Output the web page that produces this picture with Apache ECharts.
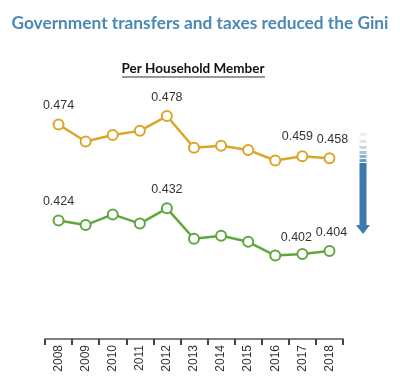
<!DOCTYPE html>
<html>
<head>
<meta charset="utf-8">
<script src="https://cdn.jsdelivr.net/npm/echarts@6/dist/echarts.min.js"></script>
<style>html,body{margin:0;padding:0;background:#fff;}#c{width:400px;height:379px;}</style>
</head>
<body>
<div id="c"></div>
<script>
const years = ['2008','2009','2010','2011','2012','2013','2014','2015','2016','2017','2018'];
const beforeTransfers = [0.474,0.466,0.469,0.471,0.478,0.463,0.464,0.462,0.457,0.459,0.458];
const afterTransfers  = [0.424,0.421,0.428,0.422,0.432,0.412,0.414,0.410,0.401,0.402,0.404];
const labelYears = ['2008','2012','2017','2018'];
const titleText = 'Government transfers and taxes reduced the Gini';
const subtitleText = 'Per Household Member';

const chart = echarts.init(document.getElementById('c'), null, {renderer:'canvas'});

// label nudges (layout only) to avoid overlap of adjacent labels
const labelOffsets = {
  top:    {'2017':[-5,-1], '2018':[3,0]},
  bottom: {'2017':[-6,2], '2018':[2,0]}
};

function mkData(vals, offs){
  return vals.map((v,i)=>{
    const y = years[i];
    const show = labelYears.indexOf(y) >= 0;
    const lab = {show: show};
    if (offs[y]) lab.offset = offs[y];
    return {value: v, label: lab};
  });
}

const labelStyle = {
  position:'top', distance:6, color:'#333', fontSize:12.5,
  fontFamily:'Liberation Sans, Arial, sans-serif',
  formatter: p => p.value.toFixed(3)
};

// arrow graphics
const arrowX = 363, stemW = 7;
const stripes = [];
const stripeTops = [133,140,146,151,155,159];
const stripeOp = [0.12,0.2,0.3,0.45,0.6,0.75];
stripeTops.forEach((t,i)=>{
  stripes.push({type:'rect', shape:{x:arrowX-stemW/2, y:t, width:stemW, height:3},
    style:{fill:'#3d7aab', opacity:stripeOp[i]}});
});

chart.setOption({
  animation:false,
  backgroundColor:'#fff',
  title:{
    text:titleText, left:'center', top:10,
    textStyle:{color:'#4a89b6', fontSize:17.3, fontWeight:'bold', fontFamily:'Lato, sans-serif'}
  },
  grid:{left:45, right:57, top:60, bottom:40},
  xAxis:{
    type:'category', data:years, boundaryGap:true,
    axisLine:{lineStyle:{color:'#555', width:1.5}},
    axisTick:{show:true, length:6, lineStyle:{color:'#444', width:2}},
    axisLabel:{rotate:90, color:'#333', fontSize:12, margin:6, fontFamily:'Liberation Sans, Arial, sans-serif'},
    splitLine:{show:false}
  },
  yAxis:[
    {type:'value', min:0.3726, max:0.5045, show:false, splitLine:{show:false}},
    {type:'value', min:0.3462, max:0.5294, show:false, splitLine:{show:false}}
  ],
  series:[
    {type:'line', name:'Market income', yAxisIndex:0, data:mkData(beforeTransfers, labelOffsets.top),
     symbol:'circle', symbolSize:10, showAllSymbol:true,
     lineStyle:{color:'#d9a62a', width:2.5},
     itemStyle:{color:'#fff', borderColor:'#d9a62a', borderWidth:2},
     label:labelStyle},
    {type:'line', name:'Disposable income', yAxisIndex:1, data:mkData(afterTransfers, labelOffsets.bottom),
     symbol:'circle', symbolSize:10, showAllSymbol:true,
     lineStyle:{color:'#5ea83f', width:2.5},
     itemStyle:{color:'#fff', borderColor:'#5ea83f', borderWidth:2},
     label:labelStyle}
  ],
  graphic:[
    {type:'text', x:193, y:69,
     style:{text:subtitleText, fill:'#111', fontSize:13.5, fontWeight:'bold', fontFamily:'Lato, sans-serif',
            align:'center', verticalAlign:'middle'}},
    {type:'line', shape:{x1:122, y1:77, x2:265, y2:77}, style:{stroke:'#333', lineWidth:1.2}},
    ...stripes,
    {type:'rect', shape:{x:arrowX-stemW/2, y:163, width:stemW, height:63}, style:{fill:'#3d7aab'}},
    {type:'polygon', shape:{points:[[arrowX-7,225],[arrowX+7,225],[arrowX,234]]}, style:{fill:'#3d7aab'}}
  ]
});
</script>
</body>
</html>
